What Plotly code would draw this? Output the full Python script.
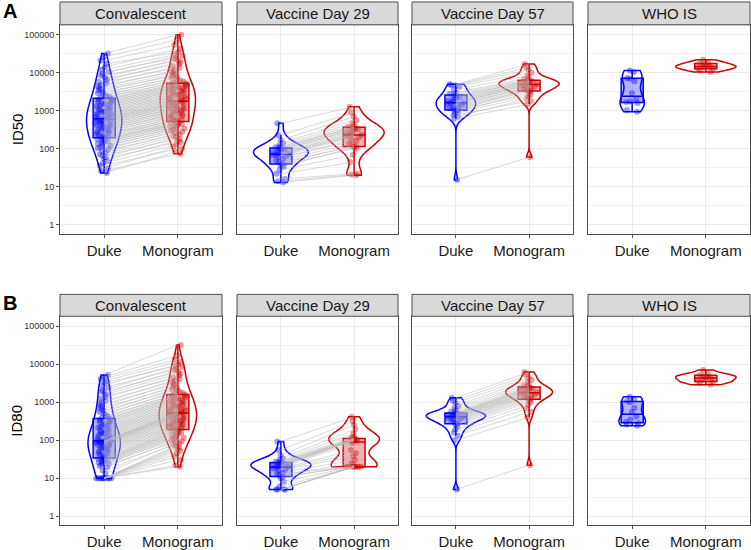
import numpy as np
import plotly.graph_objects as go

# ---------------- data ----------------
panels = ["Convalescent", "Vaccine Day 29", "Vaccine Day 57", "WHO IS"]
assays = ["ID50", "ID80"]
row_labels = ["A", "B"]
groups = ["Duke", "Monogram"]
y_tick_vals = [1, 10, 100, 1000, 10000, 100000]
y_tick_text = ["1", "10", "100", "1000", "10000", "100000"]
paired_panels = ["Convalescent", "Vaccine Day 29", "Vaccine Day 57"]

id50_conv_duke = [23, 26, 30, 36, 42,
                  48, 55, 60, 66, 72,
                  80, 88, 95, 104, 112, 120, 128, 136, 145, 152, 160, 168, 175, 182, 190,
                  200, 212, 225, 238, 250, 265, 280, 295, 310, 325, 340, 355, 372, 390, 410,
                  430, 450, 470, 490, 510, 530, 550, 570, 590, 610,
                  630, 660, 690, 720, 750, 790, 830, 870, 910, 950, 1000, 1050, 1100, 1160, 1220,
                  1290, 1360, 1430, 1500, 1580, 1660, 1750, 1850, 1950, 2050,
                  2200, 2350, 2500, 2700, 2900, 3100, 3400, 3700, 4000, 4400, 4800, 5200, 5700, 6200, 6800,
                  7500, 8400, 9500, 10500, 12000,
                  14000, 17000, 21000, 26000, 32000]
id50_conv_mono = [85, 73, 115, 100, 130,
                  165, 150, 200, 180, 220,
                  260, 240, 300, 280, 340, 320, 380, 360, 420, 400, 460, 440, 490, 475, 510,
                  600, 540, 680, 570, 640, 760, 720, 900, 800, 850, 1000, 950, 1100, 1050, 1260,
                  1150, 1200, 1380, 1320, 1500, 1440, 1620, 1560, 1750, 1680,
                  1900, 1820, 2060, 1980, 2250, 2150, 2450, 2350, 2680, 2560, 2950, 2800, 3250, 3100, 3550,
                  3400, 3850, 3700, 4200, 4000, 4600, 4400, 5000, 4800, 5200,
                  5900, 5500, 6800, 6300, 7900, 7300, 9200, 8500, 10000, 12000, 11000, 15000, 13500, 19000, 17000,
                  23000, 21000, 28000, 25000, 31000,
                  42000, 35000, 55000, 75000, 100000]

id50_v29_duke = [13, 14, 16, 22, 28, 33, 37, 40, 44, 50, 55, 60, 64, 68, 71,
                 73, 76, 80, 85, 90, 95, 100, 105, 110, 115, 125, 140, 170, 230, 470]
id50_v29_mono = [20, 21, 22, 45, 70, 110, 100, 125, 115, 140, 180, 160, 200, 225, 215,
                 235, 270, 250, 290, 330, 310, 350, 380, 370, 420, 480, 560, 700, 900, 1280]

id50_v57_duke = [15, 620, 700, 780, 850, 920, 1000, 1050, 1100, 1180, 1250, 1350, 1450, 1550, 1600,
                 1660, 1750, 1850, 1950, 2100, 2250, 2400, 2600, 2800, 3000, 3600, 4300, 4600, 4800, 5000]
id50_v57_mono = [60, 1500, 2100, 1800, 2400, 3000, 2700, 3300, 3700, 3500, 3900, 4300, 4100, 4600, 5000,
                 4800, 5200, 5600, 5400, 5800, 6200, 6000, 6400, 6800, 7500, 8500, 10000, 12000, 14000, 17000]

id50_who_duke = [950, 1050, 1600, 1700, 1750, 2000, 2900, 6000, 7000, 7300, 10500, 11500]
id50_who_mono = [10500, 11500, 12500, 13000, 14000, 14500, 15000, 15500, 17000, 18000, 19000, 22000]

id80_conv_duke = [10, 10, 10, 10, 10, 10, 10, 10, 10, 10,
                  13, 16, 19, 21, 23, 24, 25, 26, 27, 28, 29, 30, 31, 32, 33,
                  35, 37, 40, 42, 45, 48, 51, 54, 57, 60, 63, 66, 69, 72, 75,
                  78, 81, 83, 85, 87, 89, 91, 93, 94, 95,
                  97, 102, 108, 114, 120, 127, 134, 141, 148, 156, 164, 172, 181, 190, 200,
                  212, 225, 240, 255, 270, 285, 300, 320, 340, 360,
                  390, 420, 460, 500, 550, 600, 660, 730, 800, 900, 1000, 1100, 1250, 1400, 1550,
                  1700, 1900, 2100, 2400, 2800, 3200, 3600, 4100, 4600, 5200]
id80_conv_mono = [22, 20, 38, 30, 52, 45, 64, 58, 76, 70,
                  88, 82, 100, 94, 116, 108, 132, 124, 148, 140, 164, 156, 180, 172, 188,
                  205, 196, 225, 215, 245, 235, 265, 255, 290, 275, 320, 305, 350, 335, 380,
                  365, 410, 395, 440, 425, 470, 455, 500, 485, 515,
                  550, 530, 595, 570, 650, 620, 710, 680, 780, 740, 860, 820, 950, 900, 1050,
                  1000, 1150, 1100, 1260, 1200, 1380, 1320, 1500, 1440, 1560,
                  1750, 1650, 2050, 1900, 2400, 2200, 2850, 2600, 3400, 3100, 4100, 3700, 5000, 4500, 5600,
                  6900, 6200, 8400, 7600, 10000, 9200, 11500, 13500, 17000, 32000]

id80_v29_duke = [5, 5, 5, 5, 6, 8, 10, 11, 12, 13, 14, 16, 17, 18, 19,
                 20, 21, 22, 22, 23, 24, 25, 26, 27, 28, 30, 33, 40, 55, 92]
id80_v29_mono = [20, 20, 20, 20, 20, 20, 22, 20, 25, 20, 30, 38, 45, 55, 85,
                 95, 98, 100, 102, 104, 106, 108, 110, 115, 125, 150, 190, 250, 320, 415]

id80_v57_duke = [5, 100, 130, 160, 190, 220, 250, 270, 290, 310, 330, 350, 370, 390, 405,
                 420, 435, 450, 465, 480, 495, 505, 520, 560, 620, 700, 800, 950, 1100, 1300]
id80_v57_mono = [22, 400, 550, 700, 850, 1000, 1100, 1200, 1300, 1400, 1500, 1550, 1600, 1700, 1750,
                 1800, 1900, 2000, 2100, 2200, 2300, 2400, 2500, 2700, 3000, 3400, 3900, 4500, 5300, 6200]

id80_who_duke = [240, 260, 280, 300, 350, 420, 550, 700, 1000, 1100, 1200, 1400]
id80_who_mono = [2900, 3200, 3400, 3600, 3900, 4200, 4500, 4700, 5000, 5200, 5600, 7000]

data = {
    ("ID50", "Convalescent"): (id50_conv_duke, id50_conv_mono),
    ("ID50", "Vaccine Day 29"): (id50_v29_duke, id50_v29_mono),
    ("ID50", "Vaccine Day 57"): (id50_v57_duke, id50_v57_mono),
    ("ID50", "WHO IS"): (id50_who_duke, id50_who_mono),
    ("ID80", "Convalescent"): (id80_conv_duke, id80_conv_mono),
    ("ID80", "Vaccine Day 29"): (id80_v29_duke, id80_v29_mono),
    ("ID80", "Vaccine Day 57"): (id80_v57_duke, id80_v57_mono),
    ("ID80", "WHO IS"): (id80_who_duke, id80_who_mono),
}

# ---------------- style ----------------
W, H = 751, 550
FONT = "Liberation Sans, Arial, Helvetica, sans-serif"
col_px = [(60, 222), (237, 398), (412, 573), (588, 750)]
row_px = [(25, 235, 2), (318, 528, 296)]  # plot top, plot bottom, strip top
colors = {"Duke": "#0000FF", "Monogram": "#CD0000"}
fills = {"Duke": "rgba(0,0,255,0.30)", "Monogram": "rgba(205,0,0,0.30)"}
pts = {"Duke": "rgba(0,0,255,0.38)", "Monogram": "rgba(205,0,0,0.38)"}
violin_w = {
    ("ID50", "Convalescent"): (0.48, 0.48),
    ("ID50", "Vaccine Day 29"): (0.75, 0.82),
    ("ID50", "Vaccine Day 57"): (0.54, 0.82),
    ("ID50", "WHO IS"): (0.33, 0.82),
    ("ID80", "Convalescent"): (0.44, 0.51),
    ("ID80", "Vaccine Day 29"): (0.82, 0.69),
    ("ID80", "Vaccine Day 57"): (0.81, 0.64),
    ("ID80", "WHO IS"): (0.36, 0.82),
}
YR = [-0.236, 5.262]


def nrd0(v):
    v = np.asarray(v)
    sd = np.std(v, ddof=1)
    q75, q25 = np.percentile(v, [75, 25])
    lo = min(sd, (q75 - q25) / 1.34)
    if lo <= 0:
        lo = sd if sd > 0 else 0.1
    return 0.9 * lo * len(v) ** (-0.2)


fig = go.Figure()
layout = dict(width=W, height=H, autosize=False,
              margin=dict(l=0, r=0, t=0, b=0),
              paper_bgcolor="white", plot_bgcolor="white",
              showlegend=False, font=dict(family=FONT),
              violinmode="overlay", boxmode="overlay")
shapes, annotations = [], []
pos = {g: i + 1 for i, g in enumerate(groups)}

for r, assay in enumerate(assays):
    ptop, pbot, stop = row_px[r]
    for c, panel in enumerate(panels):
        k = r * 4 + c + 1
        xa = "x" if k == 1 else f"x{k}"
        ya = "y" if k == 1 else f"y{k}"
        xl, xr = col_px[c]
        layout["xaxis" if k == 1 else f"xaxis{k}"] = dict(
            domain=[xl / W, xr / W], range=[0.4, 2.6], anchor=ya,
            tickmode="array", tickvals=[pos[g] for g in groups], ticktext=groups,
            showgrid=True, gridcolor="#EBEBEB", gridwidth=1.1, zeroline=False,
            showline=True, mirror=True, linecolor="#4D4D4D", linewidth=1,
            ticks="outside", ticklen=3, tickcolor="#4D4D4D", tickwidth=1,
            tickfont=dict(size=15, color="#1A1A1A", family=FONT), fixedrange=True)
        layout["yaxis" if k == 1 else f"yaxis{k}"] = dict(
            domain=[1 - pbot / H, 1 - ptop / H], range=YR, anchor=xa,
            tickmode="array", tickvals=list(np.log10(y_tick_vals)), ticktext=y_tick_text,
            minor=dict(tickmode="array", tickvals=list(np.log10(y_tick_vals[:-1]) + 0.5),
                       showgrid=True, gridcolor="#F2F2F2", gridwidth=0.6, ticks=""),
            showgrid=True, gridcolor="#EBEBEB", gridwidth=1.1, zeroline=False,
            showline=True, mirror=True, linecolor="#4D4D4D", linewidth=1,
            ticks="outside" if c == 0 else "", ticklen=3, tickcolor="#4D4D4D",
            showticklabels=(c == 0),
            tickfont=dict(size=9, color="#333333", family=FONT), fixedrange=True)
        # strip
        shapes.append(dict(type="rect", xref="paper", yref="paper",
                           x0=xl / W, x1=xr / W, y0=1 - ptop / H, y1=1 - stop / H,
                           fillcolor="#D9D9D9", line=dict(color="#4D4D4D", width=1)))
        annotations.append(dict(text=panel, xref="paper", yref="paper",
                                x=(xl + xr) / 2 / W, y=1 - (ptop + stop) / 2 / H,
                                xanchor="center", yanchor="middle", showarrow=False,
                                font=dict(size=15, color="#1A1A1A", family=FONT)))

        duke, mono = data[(assay, panel)]
        # paired lines
        if panel in paired_panels:
            lx, ly = [], []
            for d, m in zip(duke, mono):
                lx += [pos["Duke"], pos["Monogram"], None]
                ly += [np.log10(d), np.log10(m), None]
            fig.add_trace(go.Scatter(x=lx, y=ly, mode="lines", xaxis=xa, yaxis=ya,
                                     line=dict(color="rgba(185,185,185,0.55)", width=1),
                                     hoverinfo="skip"))
        for gi, (g, vals) in enumerate(zip(groups, (duke, mono))):
            lv = np.log10(vals)
            fig.add_trace(go.Violin(
                x0=pos[g], y=lv, xaxis=xa, yaxis=ya, orientation="v",
                spanmode="hard", scalemode="width", width=violin_w[(assay, panel)][gi],
                bandwidth=nrd0(lv), points=False, box_visible=False,
                meanline_visible=False, fillcolor="rgba(0,0,0,0)",
                line=dict(color=colors[g], width=1.5), hoverinfo="skip"))
            fig.add_trace(go.Box(
                x0=pos[g], y=lv, xaxis=xa, yaxis=ya, width=0.3,
                boxpoints="all", jitter=0.85, pointpos=0, whiskerwidth=0,
                quartilemethod="linear",
                fillcolor=fills[g], line=dict(color=colors[g], width=1.5),
                marker=dict(color=pts[g], size=6, line=dict(width=0)),
                hoverinfo="skip"))

    # row label and y title
    annotations.append(dict(text=f"<b>{row_labels[r]}</b>", xref="paper", yref="paper",
                            x=1 / W, y=1 - (stop + 9) / H, xanchor="left", yanchor="middle",
                            showarrow=False, font=dict(size=20, color="black", family=FONT)))
    annotations.append(dict(text=assay, xref="paper", yref="paper", textangle=-90,
                            x=17 / W, y=1 - (ptop + pbot) / 2 / H,
                            xanchor="center", yanchor="middle", showarrow=False,
                            font=dict(size=15, color="black", family=FONT)))

layout["shapes"] = shapes
layout["annotations"] = annotations
fig.update_layout(**layout)
fig.write_html("out.html", config={"displayModeBar": False},
               post_script="document.body.style.margin='0px';document.body.style.overflow='hidden';")
